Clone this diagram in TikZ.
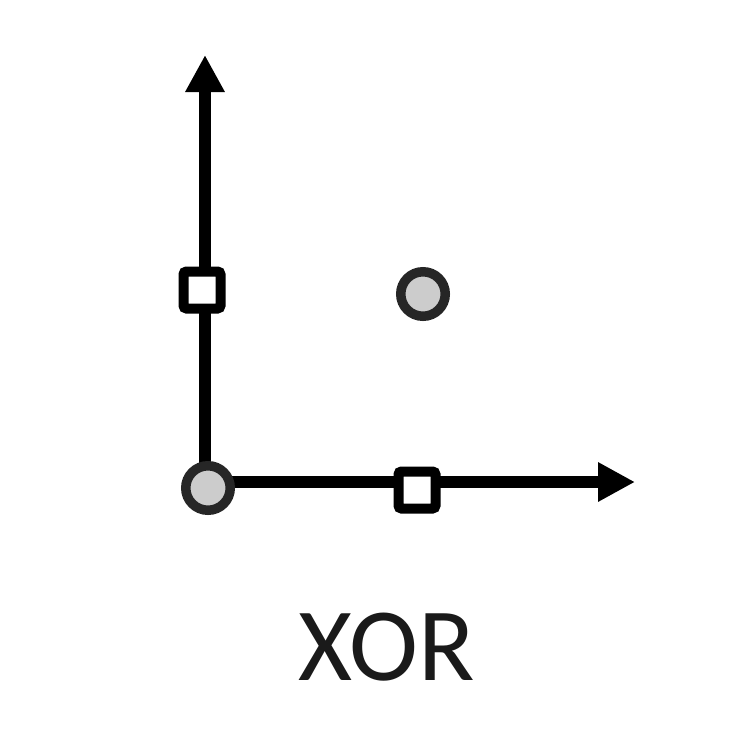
\documentclass[tikz,border=0pt]{standalone}
\usepackage{fontspec}
\setmainfont{Carlito}
\usetikzlibrary{arrows.meta}
\definecolor{ringgrey}{HTML}{262626}
\definecolor{dotfill}{HTML}{CCCCCC}
\definecolor{textgrey}{HTML}{1A1A1A}
\tikzset{
  axisline/.style={line width=12.5pt, -{Triangle[length=37pt,width=37pt]}},
  sqmark/.style={draw=black, fill=white, line width=10pt, rounded corners=3pt, minimum size=37pt, inner sep=0pt, shape=rectangle},
  dotmark/.style={draw=ringgrey, fill=dotfill, line width=9.5pt, circle, minimum size=44.5pt, inner sep=0pt},
  labeltext/.style={text=textgrey, font=\fontsize{104}{120}\selectfont, inner sep=0pt, anchor=base}
}
\begin{document}
\begin{tikzpicture}[x=1pt,y=-1pt]
\useasboundingbox (0,0) rectangle (752,750);
\coordinate (o) at (205,482);
\coordinate (ytip) at (205,55);
\coordinate (xtip) at (635,482);
\draw[axisline] (205,488) -- (ytip);
\draw[axisline] (o) -- (xtip);
\node[sqmark] (s1) at (202,290) {};
\node[sqmark] (s2) at (417,490) {};
\node[dotmark] (c0) at (208,488) {};
\node[dotmark] (c1) at (423,294) {};
\node[labeltext] (lbl) at (387,680) {XOR};
\end{tikzpicture}
\end{document}
